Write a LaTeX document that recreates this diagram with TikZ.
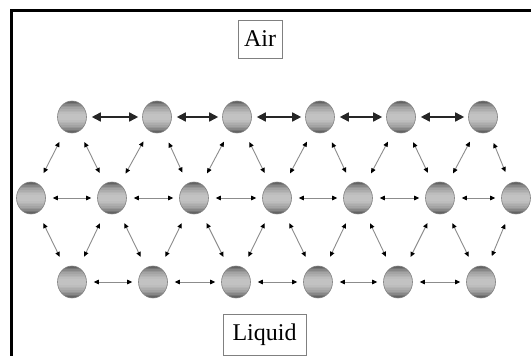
\documentclass[tikz,border=0pt]{standalone}
\usepackage{fontspec}
\setmainfont{Liberation Serif}
\usetikzlibrary{arrows.meta,shapes.geometric,calc}
\begin{document}
\begin{tikzpicture}[x=1pt,y=-1pt,
  ball/.style={ellipse,draw=black!50,line width=0.6pt,minimum width=29pt,minimum height=32pt,inner sep=0pt,
    path picture={
      \foreach \k in {0,...,19}{
        \pgfmathsetmacro\c{int(24+42*((\k+0.5)/10-1)^2)}
        \fill[black!\c] ($(path picture bounding box.north west)!{\k/20}!(path picture bounding box.south west)$) rectangle
          ($(path picture bounding box.north east)!{(\k+1.2)/20}!(path picture bounding box.south east)$);
      }
    }},
  bigarr/.style={{Triangle[length=9pt,width=9pt]}-{Triangle[length=9pt,width=9pt]},line width=1.6pt,draw=black!85,shorten <=5pt,shorten >=4pt},
  harr/.style={{Triangle[length=5pt,width=4.5pt,color=black]}-{Triangle[length=5pt,width=4.5pt,color=black]},line width=0.9pt,draw=black!45,shorten <=7pt,shorten >=6pt},
  darr/.style={{Triangle[length=5pt,width=4.5pt,color=black]}-{Triangle[length=5pt,width=4.5pt,color=black]},line width=0.9pt,draw=black!45,shorten <=12pt,shorten >=12pt},
  labelbox/.style={draw=black!50,line width=0.8pt,font=\fontsize{24}{28}\selectfont,inner sep=0pt}]
\useasboundingbox (0,0) rectangle (531,356);
\fill[white] (0,0) rectangle (531,356);
\coordinate (fl) at (11.3,356);
\coordinate (fc) at (11.3,10.7);
\coordinate (fr) at (531,10.7);
\draw[line width=2.6pt,line cap=rect] (fl) -- (fc) -- (fr);
\node[labelbox,minimum width=44pt,minimum height=38pt] (air) at (260,39) {Air};
\node[labelbox,minimum width=83pt,minimum height=41pt] (liquid) at (264.5,335) {Liquid};
\foreach \x [count=\i] in {72,157,237,320,401,483} \node[ball] (t\i) at (\x,117) {};
\foreach \x [count=\i] in {31,112,194,277,358,440,516} \node[ball] (m\i) at (\x,198) {};
\foreach \x [count=\i] in {72,153,236,318,398,481} \node[ball] (b\i) at (\x,282) {};
\foreach \i [evaluate=\i as \j using int(\i+1)] in {1,...,5} \draw[bigarr] (t\i) -- (t\j);
\foreach \i [evaluate=\i as \j using int(\i+1)] in {1,...,6} \draw[harr] (m\i) -- (m\j);
\foreach \i [evaluate=\i as \j using int(\i+1)] in {1,...,5} \draw[harr] (b\i) -- (b\j);
\foreach \i [evaluate=\i as \j using int(\i+1)] in {1,...,6} {
  \draw[darr] (t\i) -- (m\i);
  \draw[darr] (t\i) -- (m\j);
  \draw[darr] (m\i) -- (b\i);
  \draw[darr] (m\j) -- (b\i);
}
\end{tikzpicture}
\end{document}
